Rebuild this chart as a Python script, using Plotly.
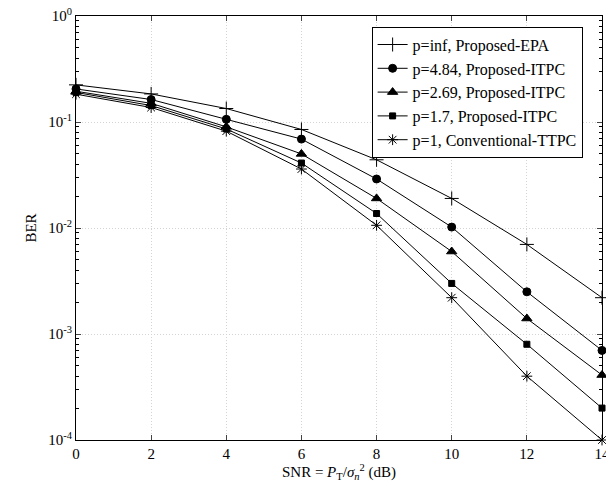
import plotly.graph_objects as go

snr = [0, 2, 4, 6, 8, 10, 12, 14]
names = ["p=inf, Proposed-EPA", "p=4.84, Proposed-ITPC", "p=2.69, Proposed-ITPC",
         "p=1.7, Proposed-ITPC", "p=1, Conventional-TTPC"]
ber_inf = [0.224, 0.184, 0.134, 0.085, 0.044, 0.019, 0.0070, 0.0022]
ber_484 = [0.205, 0.163, 0.106, 0.069, 0.029, 0.0102, 0.0025, 0.0007]
ber_269 = [0.195, 0.150, 0.090, 0.050, 0.019, 0.0060, 0.0014, 0.00041]
ber_17 = [0.190, 0.143, 0.086, 0.041, 0.0137, 0.0030, 0.0008, 0.0002]
ber_1 = [0.183, 0.137, 0.082, 0.036, 0.0106, 0.0022, 0.0004, 0.0001]
series = [ber_inf, ber_484, ber_269, ber_17, ber_1]
symbols = ["cross-thin-open", "circle", "triangle-up", "square", "asterisk-open"]
sizes = [10, 8, 9, 6, 9]

ytick_vals = [1e-4, 1e-3, 1e-2, 1e-1, 1]
ytick_text = ["10<sup>-4</sup>", "10<sup>-3</sup>", "10<sup>-2</sup>", "10<sup>-1</sup>", "10<sup>0</sup>"]
yminor_vals = [m * 10.0 ** e for e in range(-4, 0) for m in range(2, 10)]
xtick_vals = [0, 2, 4, 6, 8, 10, 12, 14]

fig = go.Figure()
for nm, ys, sym, sz in zip(names, series, symbols, sizes):
    fig.add_trace(go.Scatter(
        x=snr, y=ys, name=nm, mode="lines+markers",
        line=dict(color="black", width=1),
        marker=dict(symbol=sym, size=sz, color="black",
                    line=dict(color="black", width=1)),
        cliponaxis=False,
    ))

font = "Liberation Serif, Times New Roman, serif"
grid_col = "#d4d4d4"
fig.update_layout(
    width=598, height=476,
    margin=dict(l=68, r=4, t=8, b=44, autoexpand=False),
    paper_bgcolor="white", plot_bgcolor="white",
    font=dict(family=font, size=14, color="black"),
    showlegend=True,
    legend=dict(x=0.562, y=0.975, xanchor="left", yanchor="top",
                bgcolor="white", bordercolor="black", borderwidth=1,
                font=dict(family=font, size=16, color="black"),
                tracegroupgap=0, itemwidth=30),
)
fig.update_xaxes(
    range=[0, 14], tickvals=xtick_vals, ticks="inside", ticklen=5,
    showline=True, linecolor="black", linewidth=1, mirror="ticks",
    showgrid=True, gridcolor=grid_col, griddash="1px,2px", gridwidth=1,
    zeroline=False, ticklabeloverflow="allow", automargin=False,
    tickfont=dict(family=font, size=15, color="black"),
    title=dict(text="SNR = <i>P</i><sub>T</sub>/<i>σ</i><sub><i>n</i></sub><sup>2</sup> (dB)",
               font=dict(family=font, size=15, color="black"), standoff=4),
)
fig.update_yaxes(
    type="log", range=[-4, 0], tickvals=ytick_vals, ticktext=ytick_text,
    ticks="inside", ticklen=5,
    showline=True, linecolor="black", linewidth=1, mirror="ticks",
    showgrid=True, gridcolor=grid_col, griddash="1px,2px", gridwidth=1,
    zeroline=False, ticklabeloverflow="allow", automargin=False,
    minor=dict(ticks="inside", ticklen=3, tickmode="array", tickvals=yminor_vals,
               showgrid=False, tickcolor="black"),
    tickfont=dict(family=font, size=15, color="black"),
    title=dict(text="BER", font=dict(family=font, size=15, color="black"), standoff=8),
)
fig.write_html("out.html")
